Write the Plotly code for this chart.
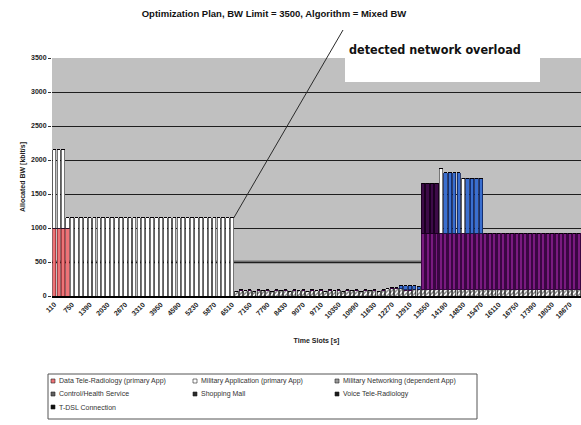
import plotly.graph_objects as go

# ---- data -------------------------------------------------------------
N_SLOTS = 119
slots = list(range(N_SLOTS))

tick_labels = ["110", "750", "1390", "2030", "2670", "3310", "3950", "4590",
               "5230", "5870", "6510", "7150", "7790", "8430", "9070", "9710",
               "10350", "10990", "11630", "12270", "12910", "13550", "14190",
               "14830", "15470", "16110", "16750", "17390", "18030", "18670"]
tick_slots = list(range(0, N_SLOTS, 4))

data_tele_radiology = [1000] * 4 + [0] * 115

military_application = ([1150] * 3 + [150] + [1150] * 37 + [0] * 46 + [960]
                        + [0] * 4 + [815] + [0] * 26)

military_networking = ([0] * 41
                       + [70, 90, 80, 90, 70, 90, 80, 90, 70, 90, 80, 90,
                          70, 90, 80, 90, 70, 90, 80, 90, 70, 90, 80, 90,
                          70, 90, 80, 90, 70, 90, 80, 90, 70, 90, 110, 120]
                       + [120, 110, 90, 90]
                       + [100] * 38)

voice_tele_radiology = [0] * 83 + [820] * 36

shopping_mall = ([0] * 78 + [50, 60, 60, 50, 40] + [0] * 5 + [890] * 4
                 + [0] + [815] * 4 + [0] * 22)

tdsl_connection = [0] * 83 + [730] * 4 + [0] * 32

control_health = [0] * N_SLOTS

series = [
    # (name, values, fill colour, outline colour, outline width, pattern)
    ("Data Tele-Radiology (primary App)", data_tele_radiology, "#ee7377", "#7a1e24", 0.6, None),
    ("Military Networking (dependent App)", military_networking, "#ffffff", "#000000", 0.6, "/"),
    ("Voice Tele-Radiology", voice_tele_radiology, "#7a1a80", "#3a0642", 1.4, None),
    ("Military Application (primary App)", military_application, "#ffffff", "#1a1a1a", 0.6, None),
    ("Shopping Mall", shopping_mall, "#3a6fd0", "#0d1f55", 0.8, None),
    ("T-DSL Connection", tdsl_connection, "#3d0a48", "#1a0020", 1.0, None),
    ("Control/Health Service", control_health, "#606060", "#000000", 0.6, None),
]

legend_rows = [
    [("Data Tele-Radiology (primary App)", "#ee7377"),
     ("Military Application (primary App)", "#ffffff"),
     ("Military Networking (dependent App)", "#9a9a9a")],
    [("Control/Health Service", "#606060"),
     ("Shopping Mall", "#2a2a2a"),
     ("Voice Tele-Radiology", "#1a1a1a")],
    [("T-DSL Connection", "#111111")],
]

# ---- geometry helpers --------------------------------------------------
W, H = 581, 425
ML, MR, MT, MB = 52, 0, 58, 129
PW, PH = W - ML - MR, H - MT - MB
Y_MAX = 3500


def px_x(px):
    return (px - ML) / PW


def px_y(py):
    return (H - MB - py) / PH


fig = go.Figure()

for name, vals, fill, edge, edge_w, pat in series:
    marker = dict(color=fill, line=dict(color=edge, width=edge_w))
    if pat:
        marker["pattern"] = dict(shape=pat, fgcolor="#000000", bgcolor="#ffffff",
                                 size=3, solidity=0.45)
    fig.add_trace(go.Bar(x=slots, y=vals, name=name, marker=marker,
                         showlegend=False, hoverinfo="skip"))

font_fam = "Liberation Sans, Arial, sans-serif"

fig.update_layout(
    width=W, height=H,
    margin=dict(l=ML, r=MR, t=MT, b=MB),
    paper_bgcolor="#ffffff",
    plot_bgcolor="#c0c0c0",
    barmode="stack",
    bargap=0.25,
    showlegend=False,
    title=dict(text="<b>Optimization Plan, BW Limit = 3500, Algorithm = Mixed BW</b>",
               x=274 / W, xanchor="center", y=1 - 14 / H, yanchor="middle",
               xref="container", yref="container",
               font=dict(family=font_fam, size=9.5, color="#111111")),
    xaxis=dict(range=[-0.5, N_SLOTS - 0.5], tickmode="array",
               tickvals=tick_slots, ticktext=tick_labels, tickangle=-45,
               tickfont=dict(family=font_fam, size=7, color="#222222", weight="bold"),
               showgrid=False, showline=True, linecolor="#000000", linewidth=1.5,
               ticks="", zeroline=False, automargin=False,
               title=dict(text="<b>Time Slots [s]</b>", standoff=20,
                          font=dict(family=font_fam, size=7, color="#222222"))),
    yaxis=dict(range=[0, Y_MAX], tickmode="linear", tick0=0, dtick=500,
               tickfont=dict(family=font_fam, size=7, color="#222222", weight="bold"),
               showgrid=True, gridcolor="#1e1e1e", gridwidth=1.2,
               ticks="outside", ticklen=3, tickcolor="#333333",
               showline=False, zeroline=False, automargin=False,
               title=dict(text="<b>Allocated BW [kbit/s]</b>", standoff=4,
                          font=dict(family=font_fam, size=7, color="#222222"))),
)

shapes = []
# heavier rule at 500 kbit/s, visible between the application blocks
shapes.append(dict(type="line", xref="paper", yref="y", x0=0, x1=1, y0=500, y1=500,
                   line=dict(color="#6e6e6e", width=3), layer="between"))

# callout: white box, pointer line from the last Military Application column
last_app = max(i for i in range(41) if military_application[i] > 0)
x_bar = (last_app + 0.5 + 0.4) / N_SLOTS
y_bar = (data_tele_radiology[last_app] + military_application[last_app]) / Y_MAX
shapes.append(dict(type="rect", xref="paper", yref="paper",
                   x0=px_x(345), x1=px_x(540), y0=px_y(82), y1=px_y(34),
                   fillcolor="#ffffff", line=dict(width=0), layer="above"))
shapes.append(dict(type="line", xref="paper", yref="paper",
                   x0=x_bar, y0=y_bar, x1=px_x(343), y1=px_y(30),
                   line=dict(color="#2a2a2a", width=1), layer="above"))

annotations = [
    dict(text="detected network overload", xref="paper", yref="paper",
         x=px_x(347), y=px_y(50), xanchor="left", yanchor="middle", showarrow=False,
         font=dict(family="DejaVu Sans Condensed, sans-serif", size=12.5,
                   color="#111111", weight="bold")),
]

# legend box drawn below the axis
shapes.append(dict(type="rect", xref="paper", yref="paper",
                   x0=px_x(48), x1=px_x(477), y0=px_y(419), y1=px_y(374),
                   fillcolor="#ffffff", line=dict(color="#555555", width=1)))
col_px = [51, 193, 335]
row_py = [381, 394, 407]
for r, row in enumerate(legend_rows):
    for c, (label, colr) in enumerate(row):
        cx, cy = col_px[c], row_py[r]
        shapes.append(dict(type="rect", xref="paper", yref="paper",
                           x0=px_x(cx), x1=px_x(cx + 4), y0=px_y(cy + 2), y1=px_y(cy - 2),
                           fillcolor=colr, line=dict(color="#222222", width=0.6)))
        annotations.append(dict(text=label, xref="paper", yref="paper",
                                x=px_x(cx + 6), y=px_y(cy), xanchor="left",
                                yanchor="middle", showarrow=False,
                                font=dict(family=font_fam, size=7, color="#333333")))

fig.update_layout(shapes=shapes, annotations=annotations)

fig.write_html("out.html")
